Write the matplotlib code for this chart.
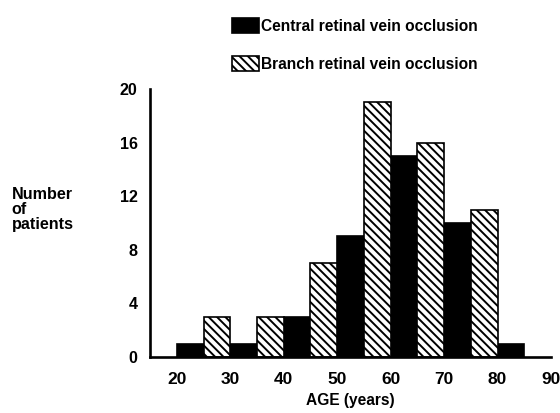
import matplotlib
matplotlib.use("Agg")
import matplotlib.pyplot as plt

# age bins (left edge, 5-year wide) and counts
central_left = [20, 30, 40, 50, 60, 70, 80]
central_counts = [1, 1, 3, 9, 15, 10, 1]
branch_left = [25, 35, 45, 55, 65, 75]
branch_counts = [3, 3, 7, 19, 16, 11]

x_ticks = [20, 30, 40, 50, 60, 70, 80, 90]
y_ticks = [0, 4, 8, 12, 16, 20]

plt.rcParams["font.family"] = ["Liberation Sans", "DejaVu Sans"]
plt.rcParams["hatch.linewidth"] = 1.4

fig = plt.figure(figsize=(5.6, 4.13), dpi=100)
ax = fig.add_axes([0.268, 0.1356, 0.716, 0.649])

ax.bar(central_left, central_counts, width=5, align="edge",
       color="black", edgecolor="black", linewidth=1.2,
       label="Central retinal vein occlusion")
ax.bar(branch_left, branch_counts, width=5, align="edge",
       color="white", edgecolor="black", linewidth=1.2, hatch="\\\\\\\\",
       label="Branch retinal vein occlusion")

ax.set_xlim(15, 90)
ax.set_ylim(0, 20)
ax.set_xticks(x_ticks)
ax.set_yticks(y_ticks)
ax.tick_params(length=0)
ax.tick_params(axis="y", pad=9, labelsize=11.6)
ax.tick_params(axis="x", pad=11, labelsize=12.5)
# small end hooks on the axis lines
ax.set_yticks([20], minor=True)
ax.set_xticks([90], minor=True)
ax.tick_params(which="minor", direction="in", length=5, width=1.8)
for lab in ax.get_xticklabels() + ax.get_yticklabels():
    lab.set_fontweight("bold")

for s in ("top", "right"):
    ax.spines[s].set_visible(False)
for s in ("left", "bottom"):
    ax.spines[s].set_linewidth(1.9)

ax.set_xlabel("AGE (years)", fontsize=11.2, fontweight="bold", labelpad=4)
fig.text(0.021, 0.548, "Number\nof\npatients", fontsize=11.6, fontweight="bold",
         ha="left", va="top", linespacing=1.0)

ax.legend(loc="upper left", bbox_to_anchor=(0.414, 0.956),
          bbox_transform=fig.transFigure, frameon=False,
          handlelength=1.75, handleheight=1.05, handletextpad=0.15,
          labelspacing=1.45, borderpad=0, borderaxespad=0,
          prop={"weight": "bold", "size": 11.2})

fig.savefig("out.png", dpi=100)
